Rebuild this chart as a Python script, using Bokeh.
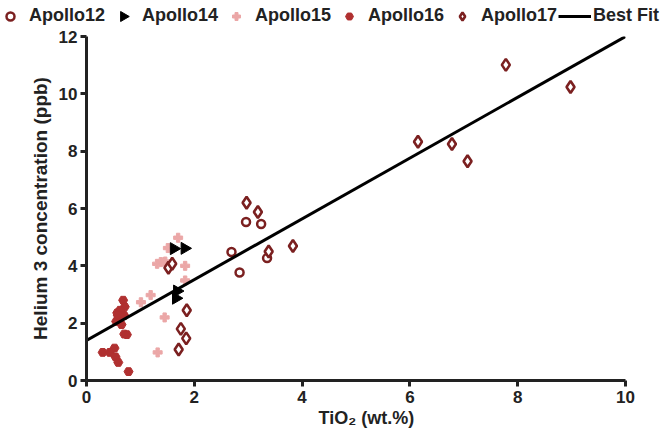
import math
from bokeh.plotting import figure
from bokeh.models import Range1d, Legend, LegendItem, FixedTicker, Title
from bokeh.embed import file_html
from bokeh.resources import INLINE

# ---- data ----
a12_x = [2.96, 3.24, 2.69, 3.35, 2.84]
a12_y = [5.53, 5.46, 4.48, 4.27, 3.77]

a14_x = [1.62, 1.82, 1.68, 1.66]
a14_y = [4.60, 4.61, 3.12, 2.87]

a15_x = [1.70, 1.51, 1.31, 1.38, 1.46, 1.83, 1.83, 1.19, 1.01, 1.45, 1.32]
a15_y = [4.98, 4.62, 4.07, 4.13, 4.15, 4.00, 3.49, 2.98, 2.73, 2.20, 0.98]

a16_x = [0.68, 0.71, 0.57, 0.63, 0.67, 0.60, 0.55, 0.65, 0.70, 0.75,
         0.52, 0.30, 0.43, 0.54, 0.59, 0.78, 0.62, 0.58, 0.70]
a16_y = [2.80, 2.57, 2.36, 2.39, 2.30, 2.18, 2.06, 1.95, 1.62, 1.60,
         1.13, 0.98, 0.98, 0.82, 0.63, 0.31, 2.45, 2.28, 2.27]

a17_x = [2.97, 3.18, 3.38, 3.83, 6.15, 6.78, 7.07, 7.78, 8.98,
         1.86, 1.75, 1.85, 1.71, 1.52, 1.59]
a17_y = [6.20, 5.88, 4.50, 4.69, 8.33, 8.25, 7.65, 11.01, 10.24,
         2.45, 1.80, 1.47, 1.08, 3.93, 4.07]

fit_x = [0.0, 10.0]
fit_y = [1.40, 12.0]

series_names = ["Apollo12", "Apollo14", "Apollo15", "Apollo16", "Apollo17"]
fit_name = "Best Fit"
x_title = "TiO₂ (wt.%)"
y_title = "Helium 3 concentration (ppb)"

x_ticks = [0, 2, 4, 6, 8, 10]
y_ticks = [0, 2, 4, 6, 8, 10, 12]

FONT = "Liberation Sans"
AXC = "#222222"
DARK = "#7b2020"
W = 662
STRIP_H = 30
TOP_PAD = 6

styles = {
    "Apollo12": dict(marker="circle", size=8, fill_color="white",
                     line_color=DARK, line_width=2.5),
    "Apollo14": dict(marker="triangle", size=12, angle=-math.pi / 2,
                     fill_color="black", line_color="black"),
    "Apollo15": dict(marker="plus", size=9, fill_color="#eba7a7",
                     line_color="#eba7a7"),
    "Apollo16": dict(marker="hex", size=9, fill_color="#b03030",
                     line_color="#b03030"),
    "Apollo17": dict(marker="diamond", size=12, fill_color="white",
                     line_color=DARK, line_width=2.6),
}
data = {
    "Apollo12": (a12_x, a12_y),
    "Apollo14": (a14_x, a14_y),
    "Apollo15": (a15_x, a15_y),
    "Apollo16": (a16_x, a16_y),
    "Apollo17": (a17_x, a17_y),
}

# ---------------- main plot ----------------
p = figure(frame_width=539, frame_height=344, output_backend="svg",
           toolbar_location=None,
           x_range=Range1d(0, 10), y_range=Range1d(0, 12),
           min_border_left=86, min_border_right=W - 86 - 539,
           min_border_top=TOP_PAD, min_border_bottom=50)
p.outline_line_color = None
p.grid.visible = False

for ax in (p.xaxis[0], p.yaxis[0]):
    ax.axis_line_width = 3
    ax.axis_line_color = AXC
    ax.major_tick_line_width = 3
    ax.major_tick_line_color = AXC
    ax.major_tick_out = 6
    ax.major_tick_in = 0
    ax.minor_tick_line_color = None
    ax.major_label_text_font = FONT
    ax.major_label_text_font_style = "bold"
    ax.major_label_text_font_size = "17px"
    ax.major_label_text_color = AXC
    ax.axis_label_text_font = FONT
    ax.axis_label_text_font_style = "bold"
    ax.axis_label_text_color = AXC

p.xaxis.ticker = FixedTicker(ticks=x_ticks)
p.yaxis.ticker = FixedTicker(ticks=y_ticks)
p.yaxis.axis_label = y_title
p.yaxis.axis_label_text_font_size = "19px"
p.xaxis.major_label_standoff = 4
p.yaxis.major_label_standoff = 3
p.yaxis.axis_label_standoff = 5

# x title sits a little right of centre in the reference
xt = Title(text=x_title, align="left", offset=232, standoff=0,
           text_font=FONT, text_font_style="bold", text_font_size="18px",
           text_color=AXC)
p.add_layout(xt, "below")

for name in ["Apollo16", "Apollo15", "Apollo12", "Apollo17", "Apollo14"]:
    xs, ys = data[name]
    p.scatter(xs, ys, **styles[name])
p.line(fit_x, fit_y, line_width=3, line_color="black")

# ---------------- legend strip (separate root, own frame) ----------------
# screen-like ranges placed far left of every data value: only keys show
OFF = -1000
lf = figure(width=W, height=STRIP_H, output_backend="svg",
            toolbar_location=None,
            x_range=Range1d(OFF - W, OFF), y_range=Range1d(0, STRIP_H),
            x_axis_type=None, y_axis_type=None, min_border=0)
lf.outline_line_color = None
lf.grid.visible = False

GW, STAND, SPACE, LEG_Y = 20, 9, 8, 4
items = []
for name in series_names:
    xs, ys = data[name]
    st = dict(styles[name])
    if name == "Apollo14":
        st.update(fill_alpha=0, line_alpha=0)  # key drawn rotated below
    r = lf.scatter(xs, ys, **st)
    items.append(LegendItem(label=name, renderers=[r]))
rl = lf.line(fit_x, fit_y, line_width=3, line_color="black")


def style(lg):
    lg.label_text_font = FONT
    lg.label_text_font_style = "bold"
    lg.label_text_font_size = "18px"
    lg.label_text_color = AXC
    lg.border_line_color = None
    lg.background_fill_alpha = 0
    lg.padding = 0
    lg.margin = 0
    lg.label_height = 16
    lg.glyph_height = 20


leg1 = Legend(items=items, orientation="horizontal", location=(0, LEG_Y))
style(leg1)
leg1.glyph_width = GW
leg1.label_standoff = STAND
leg1.spacing = SPACE
lf.add_layout(leg1)

leg2 = Legend(items=[LegendItem(label=fit_name, renderers=[rl])],
              orientation="horizontal", location=(558, LEG_Y))
style(leg2)
leg2.glyph_width = 33
leg2.label_standoff = 2
lf.add_layout(leg2)

# right-pointing key for Apollo14 (legend keys cannot be rotated)
pitch = 113
lf.scatter([OFF - W + GW / 2 + pitch], [LEG_Y + 10], marker="triangle",
           size=10, angle=-math.pi / 2, fill_color="black",
           line_color="black")

open("out.html", "w").write(file_html([lf, p], INLINE))
